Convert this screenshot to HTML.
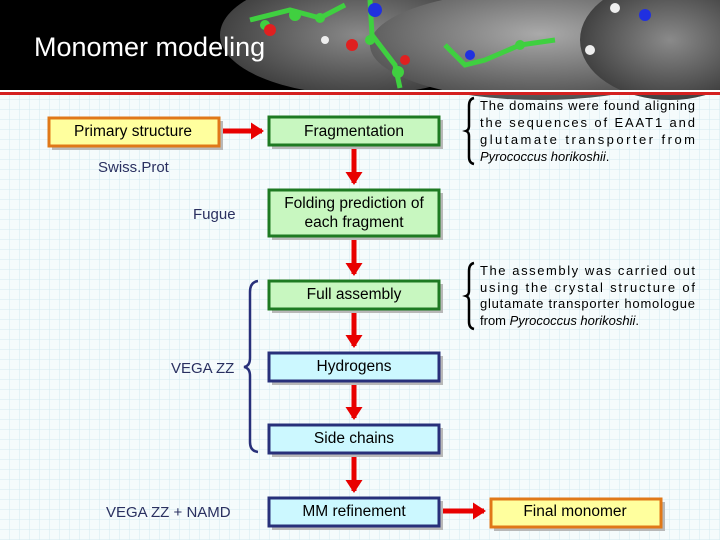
<!DOCTYPE html>
<html><head><meta charset="utf-8"><style>
html,body{margin:0;padding:0;width:720px;height:540px;overflow:hidden;background:#fff}
svg{display:block}
text{font-family:"Liberation Sans",sans-serif}
</style></head><body>
<svg width="720" height="540" viewBox="0 0 720 540" xmlns="http://www.w3.org/2000/svg">
<defs>
<pattern id="g" width="10" height="10" patternUnits="userSpaceOnUse">
<rect width="10" height="10" fill="#f5fbfc"/>
<path d="M10 0V10M0 10H10" stroke="#d4eaf0" stroke-width="1"/>
</pattern>
<radialGradient id="m1" cx="0.5" cy="0.5" r="0.6"><stop offset="0" stop-color="#8a8a8a"/><stop offset="1" stop-color="#333"/></radialGradient>
<radialGradient id="m2" cx="0.5" cy="0.4" r="0.6"><stop offset="0" stop-color="#aaa"/><stop offset="1" stop-color="#505050"/></radialGradient>
<marker id="a" markerWidth="4" markerHeight="4" refX="2.2" refY="2" orient="auto" markerUnits="strokeWidth"><path d="M0,0.3 L2.6,2 L0,3.7z" fill="#e80000"/></marker>
</defs>
<rect width="720" height="540" fill="url(#g)"/>
<!-- header -->
<rect width="720" height="90" fill="#000"/>
<ellipse cx="360" cy="35" rx="140" ry="60" fill="url(#m1)"/>
<ellipse cx="540" cy="45" rx="170" ry="55" fill="url(#m2)"/>
<ellipse cx="670" cy="40" rx="90" ry="60" fill="url(#m1)"/>
<g stroke="#3fd040" stroke-width="5" fill="none">
<path d="M250 20 L290 10 L320 18 L345 5"/>
<path d="M370 0 L372 35 L395 65 L400 88"/>
<path d="M445 45 L465 65 L485 60 L520 45 L555 40"/>
</g>
<circle cx="265" cy="25" r="5" fill="#40d040"/><circle cx="295" cy="15" r="6" fill="#40d040"/>
<circle cx="320" cy="18" r="5" fill="#40d040"/><circle cx="370" cy="40" r="5" fill="#40d040"/>
<circle cx="398" cy="72" r="6" fill="#40d040"/><circle cx="520" cy="45" r="5" fill="#40d040"/>
<circle cx="270" cy="30" r="6" fill="#e02020"/><circle cx="352" cy="45" r="6" fill="#e02020"/>
<circle cx="405" cy="60" r="5" fill="#e02020"/><circle cx="375" cy="10" r="7" fill="#2030e0"/>
<circle cx="470" cy="55" r="5" fill="#2030e0"/><circle cx="645" cy="15" r="6" fill="#2030e0"/>
<circle cx="590" cy="50" r="5" fill="#eee"/><circle cx="325" cy="40" r="4" fill="#eee"/><circle cx="615" cy="8" r="5" fill="#eee"/>
<text x="34" y="56" font-size="27" fill="#fff">Monomer modeling</text>
<rect x="0" y="90" width="720" height="2" fill="#fff"/>
<rect x="0" y="92" width="720" height="3" fill="#d42020"/>
<!-- arrows -->
<g stroke="#e80000" stroke-width="5" fill="none">
<line x1="220" y1="131" x2="262" y2="131" marker-end="url(#a)"/>
<line x1="354" y1="146" x2="354" y2="183" marker-end="url(#a)"/>
<line x1="354" y1="237" x2="354" y2="274" marker-end="url(#a)"/>
<line x1="354" y1="310" x2="354" y2="346" marker-end="url(#a)"/>
<line x1="354" y1="382" x2="354" y2="418" marker-end="url(#a)"/>
<line x1="354" y1="454" x2="354" y2="491" marker-end="url(#a)"/>
<line x1="441" y1="511" x2="484" y2="511" marker-end="url(#a)"/>
</g>
<!-- boxes -->
<g>
<rect x="52" y="121" width="171" height="29" fill="#b8b8b8"/>
<rect x="49" y="118" width="170" height="28" fill="#ffff9e" stroke="#e07818" stroke-width="3"/>
<rect x="272" y="120" width="171" height="29" fill="#b8b8b8"/>
<rect x="269" y="117" width="170" height="28" fill="#c8f7c0" stroke="#1e7a22" stroke-width="3"/>
<rect x="272" y="193" width="171" height="47" fill="#b8b8b8"/>
<rect x="269" y="190" width="170" height="46" fill="#c8f7c0" stroke="#1e7a22" stroke-width="3"/>
<rect x="272" y="284" width="171" height="29" fill="#b8b8b8"/>
<rect x="269" y="281" width="170" height="28" fill="#c8f7c0" stroke="#1e7a22" stroke-width="3"/>
<rect x="272" y="356" width="171" height="29" fill="#b8b8b8"/>
<rect x="269" y="353" width="170" height="28" fill="#ccf8ff" stroke="#28307a" stroke-width="3"/>
<rect x="272" y="428" width="171" height="29" fill="#b8b8b8"/>
<rect x="269" y="425" width="170" height="28" fill="#ccf8ff" stroke="#28307a" stroke-width="3"/>
<rect x="272" y="501" width="171" height="29" fill="#b8b8b8"/>
<rect x="269" y="498" width="170" height="28" fill="#ccf8ff" stroke="#28307a" stroke-width="3"/>
<rect x="494" y="502" width="171" height="29" fill="#b8b8b8"/>
<rect x="491" y="499" width="170" height="28" fill="#ffff9e" stroke="#e07818" stroke-width="3"/>
</g>
<g font-size="15.5" fill="#000" text-anchor="middle">
<text x="133" y="136">Primary structure</text>
<text x="354" y="136">Fragmentation</text>
<text x="354" y="208">Folding prediction of</text>
<text x="354" y="227">each fragment</text>
<text x="354" y="299">Full assembly</text>
<text x="354" y="371">Hydrogens</text>
<text x="354" y="443">Side chains</text>
<text x="354" y="516">MM refinement</text>
<text x="575" y="516">Final monomer</text>
</g>
<g font-size="15" fill="#2a3060">
<text x="98" y="172">Swiss.Prot</text>
<text x="193" y="219">Fugue</text>
<text x="171" y="373">VEGA ZZ</text>
<text x="106" y="517">VEGA ZZ + NAMD</text>
</g>
<!-- braces -->
<path d="M258 281 Q250 282 250 292 L250 358 Q250 366 244 367 Q250 368 250 376 L250 442 Q250 451 258 452" fill="none" stroke="#28307a" stroke-width="2.5"/>
<path d="M474 98 Q469 99 469 106 L469 126 Q469 130 466 131 Q469 132 469 136 L469 157 Q469 163 474 164" fill="none" stroke="#000" stroke-width="2.5"/>
<path d="M474 263 Q469 264 469 271 L469 291 Q469 295 466 296 Q469 297 469 301 L469 322 Q469 328 474 329" fill="none" stroke="#000" stroke-width="2.5"/>
<g font-size="13" fill="#000">
<text x="480" y="110" textLength="215" lengthAdjust="spacing">The domains were found aligning</text>
<text x="480" y="127" textLength="215" lengthAdjust="spacing">the sequences of EAAT1 and</text>
<text x="480" y="144" textLength="215" lengthAdjust="spacing">glutamate transporter from</text>
<text x="480" y="161" font-style="italic">Pyrococcus horikoshii<tspan font-style="normal">.</tspan></text>
<text x="480" y="275" textLength="215" lengthAdjust="spacing">The assembly was carried out</text>
<text x="480" y="292" textLength="215" lengthAdjust="spacing">using the crystal structure of</text>
<text x="480" y="308" textLength="215" lengthAdjust="spacing">glutamate transporter homologue</text>
<text x="480" y="325">from <tspan font-style="italic">Pyrococcus horikoshii</tspan>.</text>
</g>
</svg>
</body></html>
